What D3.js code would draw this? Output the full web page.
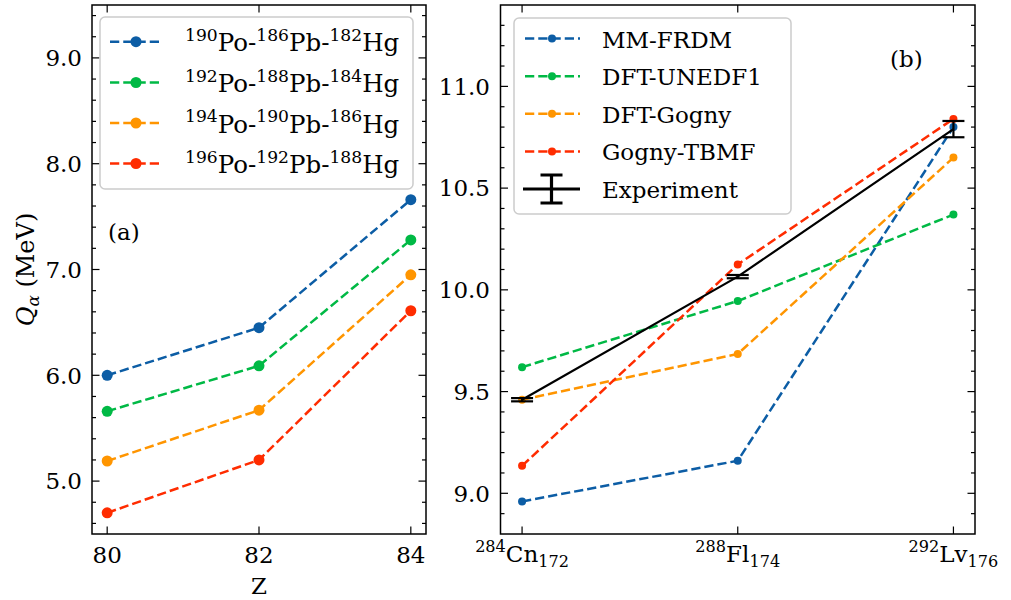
<!DOCTYPE html>
<html>
<head>
<meta charset="utf-8">
<script src="https://cdn.jsdelivr.net/npm/d3@7"></script>
<style>
  html, body { margin: 0; padding: 0; background: #ffffff; }
  svg { display: block; }
  svg text { font-family: "DejaVu Serif"; }
</style>
</head>
<body>
<svg id="chart" width="1011" height="600"></svg>
<script>
// ---------------- DATA ----------------
// Panel (a)
const zValues = [80, 82, 84];
const zTicks = [80, 82, 84];
const poMass = [190, 192, 194, 196];
const pbMass = [186, 188, 190, 192];
const hgMass = [182, 184, 186, 188];
const qChain190 = [6.00, 6.45, 7.66];
const qChain192 = [5.66, 6.09, 7.28];
const qChain194 = [5.19, 5.67, 6.95];
const qChain196 = [4.70, 5.20, 6.61];
const leftYTicks = [5.0, 6.0, 7.0, 8.0, 9.0];
const leftYTickLabels = ["5.0", "6.0", "7.0", "8.0", "9.0"];

// Panel (b)
const nucleiSymbols = ["Cn", "Fl", "Lv"];
const nucleiMass = [284, 288, 292];
const nucleiNeutrons = [172, 174, 176];
const modelNames = ["MM-FRDM", "DFT-UNEDF1", "DFT-Gogny", "Gogny-TBMF"];
const mmFrdm = [8.96, 9.16, 10.80];
const dftUnedf1 = [9.62, 9.945, 10.37];
const dftGogny = [9.46, 9.685, 10.65];
const gognyTbmf = [9.135, 10.125, 10.84];
const experiment = [9.46, 10.065, 10.79];
const experimentErr = [0.008, 0.008, 0.04];
const rightYTicks = [9.0, 9.5, 10.0, 10.5, 11.0];
const rightYTickLabels = ["9.0", "9.5", "10.0", "10.5", "11.0"];

// ---------------- STYLE ----------------
const colors = ["#0C5DA5", "#00B945", "#FF9500", "#FF2C00"];
const FONT = 23;
const LEG_FONT = 23;
const LEG_FONT_A = 24.5;

const svg = d3.select("#chart");

function txt(g) { return g.append("text").attr("fill", "#000"); }

function richText(sel, parts, size, supShift, subShift) {
  let cur = 0;
  parts.forEach(p => {
    const ts = sel.append("tspan").text(p.t);
    let target = 0;
    if (p.mode === "sup") { ts.attr("font-size", size * 0.7); target = -supShift; }
    else if (p.mode === "sub") { ts.attr("font-size", size * 0.7); target = subShift; }
    else { ts.attr("font-size", size); }
    if (p.it) ts.attr("font-style", "italic");
    ts.attr("dy", target - cur);
    cur = target;
  });
}

function drawFrame(g, w, xTickVals, yTicksMajor, yTicksMinor, xScale, yScale) {
  const majLen = 7.5, minLen = 4;
  const tg = g.append("g").attr("stroke", "#000").attr("stroke-width", 1.2);
  yTicksMajor.forEach(v => {
    const yy = yScale(v);
    tg.append("line").attr("x1", w.l).attr("x2", w.l + majLen).attr("y1", yy).attr("y2", yy);
    tg.append("line").attr("x1", w.r).attr("x2", w.r - majLen).attr("y1", yy).attr("y2", yy);
  });
  yTicksMinor.forEach(v => {
    const yy = yScale(v);
    tg.append("line").attr("x1", w.l).attr("x2", w.l + minLen).attr("y1", yy).attr("y2", yy);
    tg.append("line").attr("x1", w.r).attr("x2", w.r - minLen).attr("y1", yy).attr("y2", yy);
  });
  xTickVals.forEach(v => {
    const xx = xScale(v);
    tg.append("line").attr("x1", xx).attr("x2", xx).attr("y1", w.b).attr("y2", w.b - majLen);
    tg.append("line").attr("x1", xx).attr("x2", xx).attr("y1", w.t).attr("y2", w.t + majLen);
  });
  g.append("rect").attr("x", w.l).attr("y", w.t).attr("width", w.r - w.l).attr("height", w.b - w.t)
    .attr("fill", "none").attr("stroke", "#000").attr("stroke-width", 1.5);
}

// ================= PANEL (a) =================
const A = { l: 92, r: 426, t: 5, b: 534 };
const xA = d3.scaleLinear().domain([79.8, 84.2]).range([A.l, A.r]);
const yA = d3.scaleLinear().domain([4.5, 9.5]).range([A.b, A.t]);
const gA = svg.append("g");

const leftSeries = [qChain190, qChain192, qChain194, qChain196];
const lineA = d3.line().x((d, i) => xA(zValues[i])).y(d => yA(d));
leftSeries.forEach((s, k) => {
  gA.append("path").attr("d", lineA(s)).attr("fill", "none")
    .attr("stroke", colors[k]).attr("stroke-width", 2.5).attr("stroke-dasharray", "9.25,4");
  gA.selectAll(null).data(s).enter().append("circle")
    .attr("cx", (d, i) => xA(zValues[i])).attr("cy", d => yA(d)).attr("r", 5.5).attr("fill", colors[k]);
});

const minorA = d3.range(4.6, 9.5, 0.2).filter(v => Math.abs(v - Math.round(v)) > 0.05);
drawFrame(gA, A, zTicks, leftYTicks, minorA, xA, yA);

leftYTicks.forEach((d, i) => {
  txt(gA).attr("x", 82).attr("y", yA(d)).attr("dy", "0.36em").attr("text-anchor", "end")
    .attr("font-size", FONT).text(leftYTickLabels[i]);
});
zTicks.forEach(d => {
  txt(gA).attr("x", xA(d)).attr("y", 563).attr("text-anchor", "middle").attr("font-size", FONT).text(d);
});
txt(gA).attr("x", (A.l + A.r) / 2).attr("y", 594).attr("text-anchor", "middle").attr("font-size", FONT).text("Z");
const yl = txt(gA).attr("transform", `translate(34,${(A.t + A.b) / 2}) rotate(-90)`).attr("text-anchor", "middle");
richText(yl, [{ t: "Q", mode: "n", it: true }, { t: "α", mode: "sub", it: true }, { t: " (MeV)", mode: "n" }], 24, 10, 5);

txt(gA).attr("x", 108).attr("y", 240).attr("font-size", FONT).text("(a)");

// legend (a)
gA.append("rect").attr("x", 100).attr("y", 17).attr("width", 313).attr("height", 172)
  .attr("rx", 5).attr("fill", "rgba(255,255,255,0.8)").attr("stroke", "#cccccc").attr("stroke-width", 1.5);
const rowsA = [41.7, 82.5, 123, 163.5];
leftSeries.forEach((s, k) => {
  const ry = rowsA[k];
  gA.append("line").attr("x1", 110).attr("x2", 163).attr("y1", ry).attr("y2", ry)
    .attr("stroke", colors[k]).attr("stroke-width", 2.5).attr("stroke-dasharray", "9.25,4");
  gA.append("circle").attr("cx", 136).attr("cy", ry).attr("r", 5.5).attr("fill", colors[k]);
  const t = txt(gA).attr("x", 185).attr("y", ry + 9.5);
  richText(t, [
    { t: String(poMass[k]), mode: "sup" }, { t: "Po-", mode: "n" },
    { t: String(pbMass[k]), mode: "sup" }, { t: "Pb-", mode: "n" },
    { t: String(hgMass[k]), mode: "sup" }, { t: "Hg", mode: "n" }
  ], LEG_FONT_A, 10.5, 5);
});

// ================= PANEL (b) =================
const B = { l: 500.5, r: 975, t: 5, b: 534 };
const xB = d3.scaleLinear().domain([-0.1, 2.1]).range([B.l, B.r]);
const yB = d3.scaleLinear().domain([8.8, 11.4]).range([B.b, B.t]);
const gB = svg.append("g");
const idx = [0, 1, 2];
const rightSeries = [mmFrdm, dftUnedf1, dftGogny, gognyTbmf];
const lineB = d3.line().x((d, i) => xB(i)).y(d => yB(d));
rightSeries.forEach((s, k) => {
  gB.append("path").attr("d", lineB(s)).attr("fill", "none")
    .attr("stroke", colors[k]).attr("stroke-width", 2.5).attr("stroke-dasharray", "9.25,4");
  gB.selectAll(null).data(s).enter().append("circle")
    .attr("cx", (d, i) => xB(i)).attr("cy", d => yB(d)).attr("r", 4).attr("fill", colors[k]);
});
gB.append("path").attr("d", lineB(experiment)).attr("fill", "none").attr("stroke", "#000").attr("stroke-width", 2.2);
experiment.forEach((v, i) => {
  const xx = xB(i), y1 = yB(v - experimentErr[i]), y2 = yB(v + experimentErr[i]);
  gB.append("line").attr("x1", xx).attr("x2", xx).attr("y1", y1).attr("y2", y2).attr("stroke", "#000").attr("stroke-width", 2.2);
  [y1, y2].forEach(yy => gB.append("line").attr("x1", xx - 11).attr("x2", xx + 11).attr("y1", yy).attr("y2", yy)
    .attr("stroke", "#000").attr("stroke-width", 2.2));
});

const minorB = d3.range(8.9, 11.4, 0.1).filter(v => Math.abs(v * 2 - Math.round(v * 2)) > 0.05);
drawFrame(gB, B, idx, rightYTicks, minorB, xB, yB);

rightYTicks.forEach((d, i) => {
  txt(gB).attr("x", 490).attr("y", yB(d)).attr("dy", "0.36em").attr("text-anchor", "end")
    .attr("font-size", FONT).text(rightYTickLabels[i]);
});
idx.forEach(i => {
  const t = txt(gB).attr("x", xB(i)).attr("y", 562).attr("text-anchor", "middle");
  richText(t, [
    { t: String(nucleiMass[i]), mode: "sup" }, { t: nucleiSymbols[i], mode: "n" },
    { t: String(nucleiNeutrons[i]), mode: "sub" }
  ], FONT, 10, 5);
});
txt(gB).attr("x", 890).attr("y", 67).attr("font-size", FONT).text("(b)");

// legend (b)
gB.append("rect").attr("x", 514).attr("y", 18).attr("width", 277).attr("height", 196)
  .attr("rx", 5).attr("fill", "rgba(255,255,255,0.8)").attr("stroke", "#cccccc").attr("stroke-width", 1.5);
const rowsB = [38.5, 76.2, 113.8, 151.4, 189];
modelNames.forEach((name, k) => {
  const ry = rowsB[k];
  gB.append("line").attr("x1", 525).attr("x2", 580).attr("y1", ry).attr("y2", ry)
    .attr("stroke", colors[k]).attr("stroke-width", 2.5).attr("stroke-dasharray", "9.25,4");
  gB.append("circle").attr("cx", 552).attr("cy", ry).attr("r", 4).attr("fill", colors[k]);
  txt(gB).attr("x", 602).attr("y", ry + 9).attr("font-size", LEG_FONT).text(name);
});
{
  const ry = rowsB[4];
  gB.append("line").attr("x1", 523).attr("x2", 580).attr("y1", ry).attr("y2", ry).attr("stroke", "#000").attr("stroke-width", 3);
  gB.append("line").attr("x1", 551.5).attr("x2", 551.5).attr("y1", ry - 14).attr("y2", ry + 14).attr("stroke", "#000").attr("stroke-width", 3.2);
  [ry - 14, ry + 14].forEach(yy => gB.append("line").attr("x1", 540.5).attr("x2", 562.5).attr("y1", yy).attr("y2", yy)
    .attr("stroke", "#000").attr("stroke-width", 3));
  txt(gB).attr("x", 602).attr("y", ry + 9).attr("font-size", LEG_FONT).text("Experiment");
}
</script>
</body>
</html>
